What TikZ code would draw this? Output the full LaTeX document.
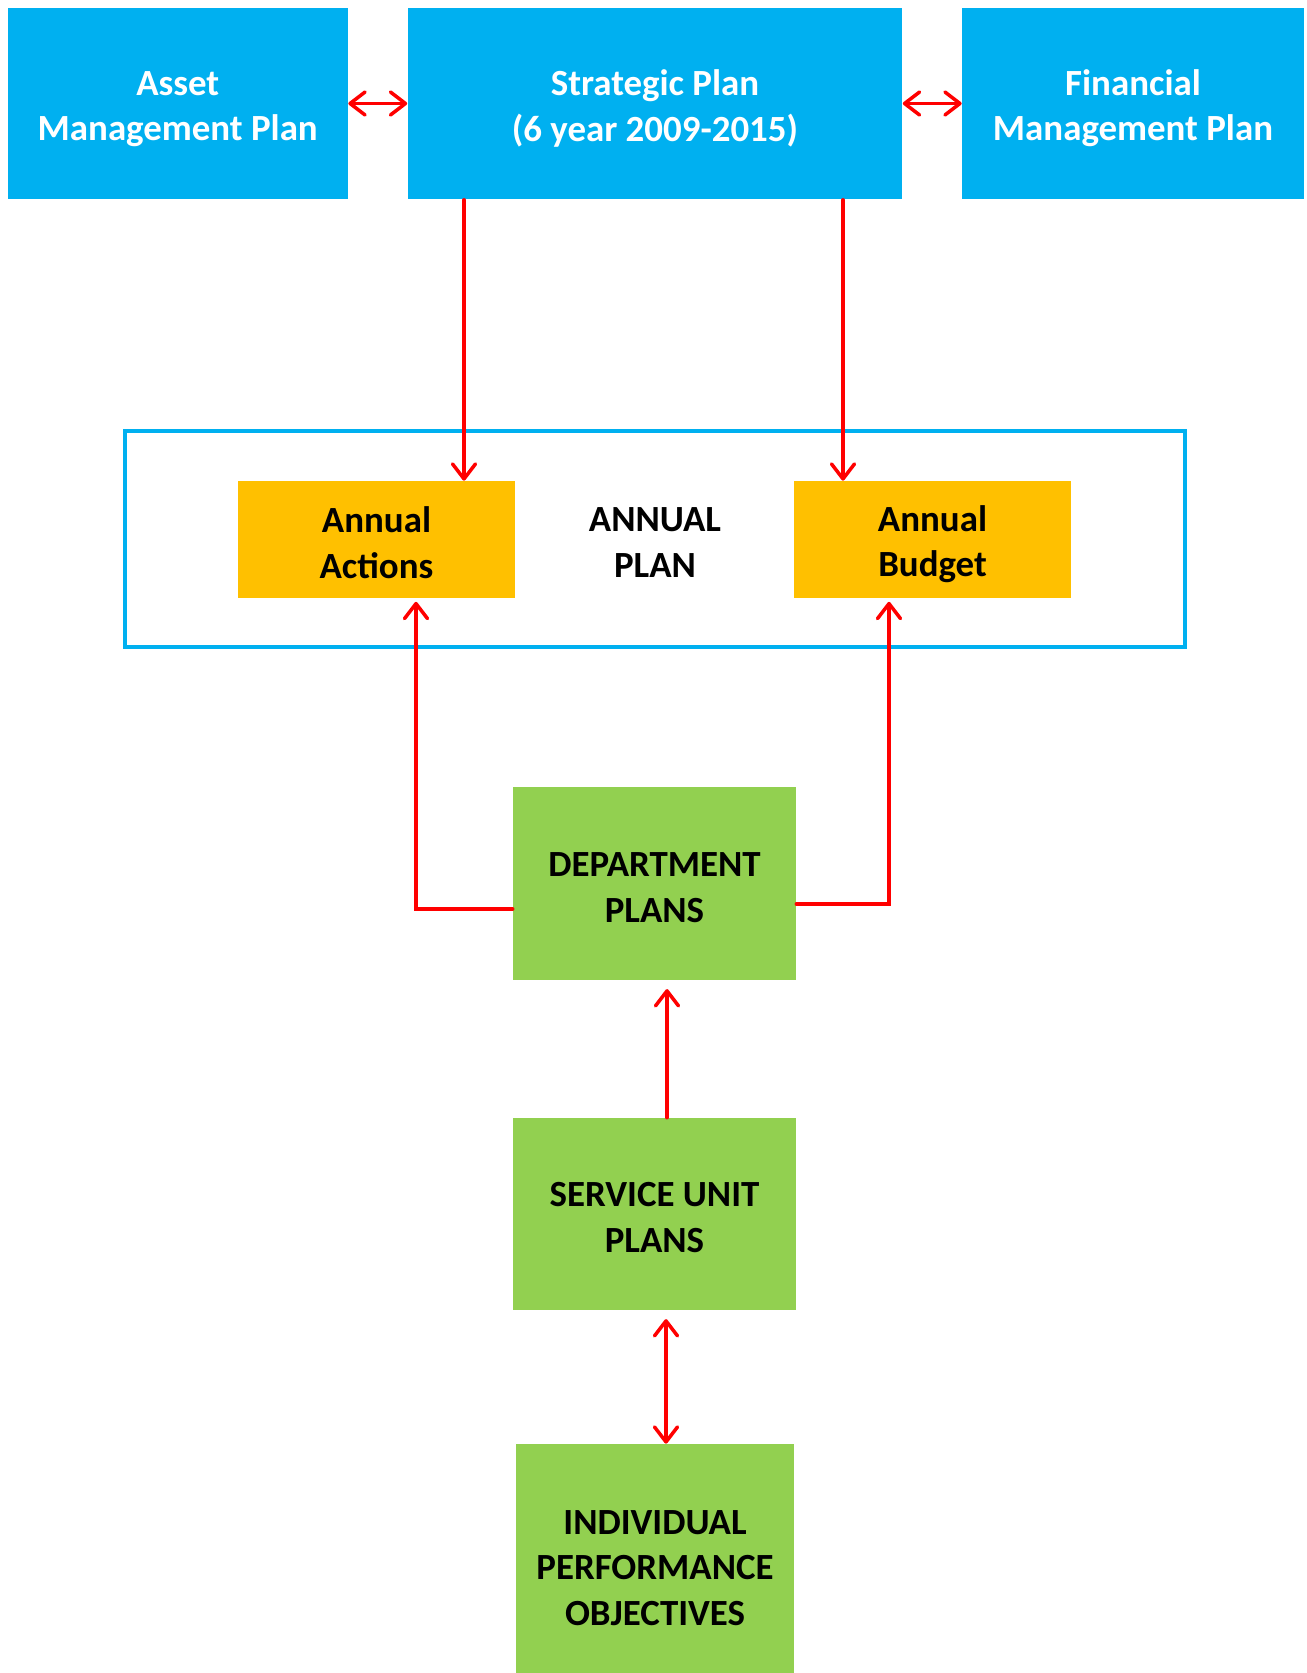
\documentclass[tikz,border=0pt]{standalone}
\usepackage{fontspec}
\setmainfont{Carlito}
\usetikzlibrary{arrows.meta}
\definecolor{planblue}{HTML}{00B0F0}
\definecolor{planorange}{HTML}{FFC000}
\definecolor{plangreen}{HTML}{92D050}
\definecolor{planred}{HTML}{FF0000}
\newcommand\linetop{\rule{0pt}{20pt}}
\newcommand\linebot{\rule[-2pt]{0pt}{2pt}}

\begin{document}
\begin{tikzpicture}[x=0.02cm,y=-0.02cm]
      \tikzstyle box=[inner sep=0pt, align=center, font=\fontsize{21}{26}\selectfont\bfseries,
      execute at end node=\linebot]
      \tikzstyle topbox=[box, fill=planblue, text=white, minimum height=3.84cm]
      \tikzstyle yellowbox=[box, fill=planorange, minimum width=5.54cm, minimum height=2.34cm]
      \tikzstyle greenbox=[box, fill=plangreen, minimum width=5.66cm]
      \tikzstyle link=[planred, line width=2pt, line cap=round,
      >={Straight Barb[length=3mm,width=4.6mm,round]}]
      \useasboundingbox (0,0) rectangle (1306,1673);
      % top row
      \node [topbox, minimum width=6.81cm] (asset) at (177.75,103.5) {\linetop Asset\\Management Plan};
      \node [topbox, minimum width=9.9cm] (strategic) at (655,103.5) {\linetop Strategic Plan\\(6 year 2009-2015)};
      \node [topbox, minimum width=6.84cm] (financial) at (1133,103.5) {\linetop Financial\\Management Plan};
      % annual plan
      \node [box, draw=planblue, line width=2.6pt, minimum width=21.2cm, minimum height=4.32cm] (frame) at (655,539) {\linetop ANNUAL\\PLAN};
      \node [yellowbox] (actions) at (376.5,539.5) {\linetop Annual\\Actions};
      \node [yellowbox] (budget) at (932.5,539.5) {\linetop Annual\\Budget};
      % green boxes
      \node [greenbox, minimum height=3.86cm] (dept) at (654.5,883.5) {\linetop DEPARTMENT\\PLANS};
      \node [greenbox, minimum height=3.84cm] (service) at (654.5,1214) {\linetop SERVICE UNIT\\PLANS};
      \node [greenbox, minimum width=5.58cm, minimum height=4.8cm] (indiv) at (655,1564) {\linetop INDIVIDUAL\\PERFORMANCE\\OBJECTIVES};
      % connectors
      \draw [link, <->] (asset) -- (strategic);
      \draw [link, <->] (strategic) -- (financial);
      \draw [link, ->] (strategic.south -| 464,0) -- (actions.north -| 464,0);
      \draw [link, ->] (strategic.south -| 843,0) -- (budget.north -| 843,0);
      \draw [link, ->] (dept.west |- 0,909) -- (416,909) -- ([yshift=-2pt]actions.south -| 416,0);
      \draw [link, ->] (dept.east |- 0,904) -- (889,904) -- ([yshift=-2pt]budget.south -| 889,0);
      \draw [link, ->] (service.north -| 667,0) -- ([yshift=-5pt]dept.south -| 667,0);
      \draw [link, <->] ([yshift=-5pt]service.south -| 666,0) -- (indiv.north -| 666,0);
\end{tikzpicture}
\end{document}
